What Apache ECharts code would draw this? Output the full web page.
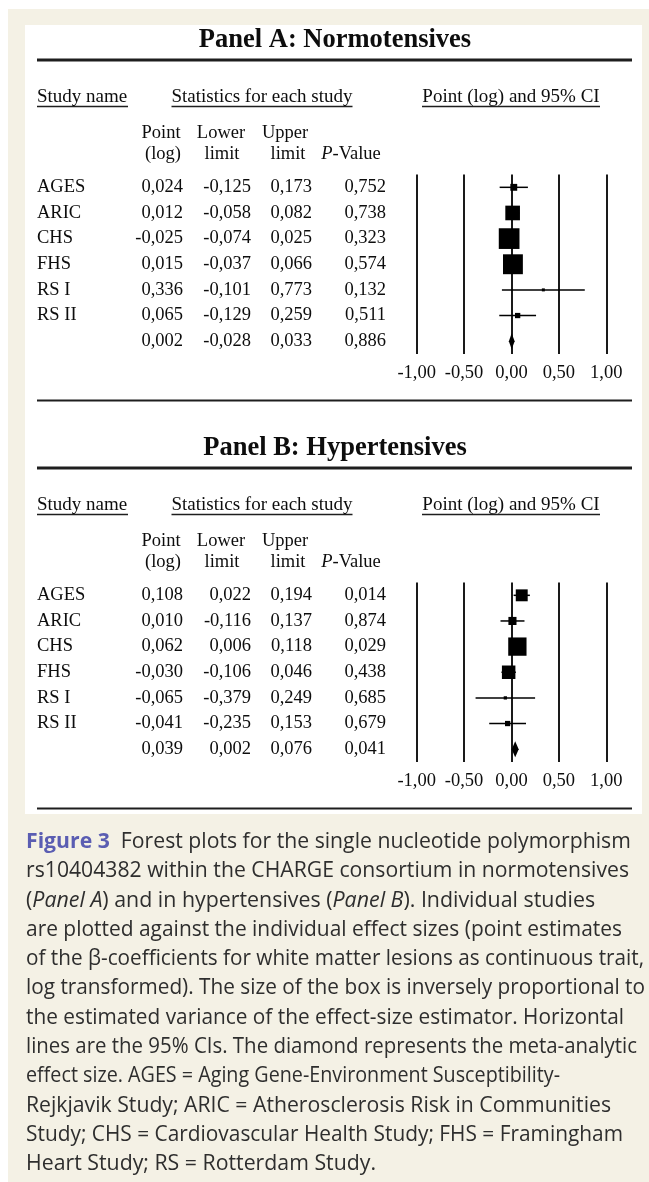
<!DOCTYPE html>
<html>
<head>
<meta charset="utf-8">
<script src="https://cdn.jsdelivr.net/npm/echarts@6/dist/echarts.min.js"></script>
<style>
  html, body { margin: 0; padding: 0; background: #fff; }
  #chart { width: 649px; height: 1182px; }
</style>
</head>
<body>
<div id="chart"></div>
<script>
// rows: six studies + pooled estimate (blank name)
const studies = ["AGES", "ARIC", "CHS", "FHS", "RS I", "RS II", ""];

// Panel A: normotensives
const pointA = [0.024, 0.012, -0.025, 0.015, 0.336, 0.065, 0.002];
const lowerA = [-0.125, -0.058, -0.074, -0.037, -0.101, -0.129, -0.028];
const upperA = [0.173, 0.082, 0.025, 0.066, 0.773, 0.259, 0.033];
const pValueA = [0.752, 0.738, 0.323, 0.574, 0.132, 0.511, 0.886];

// Panel B: hypertensives
const pointB = [0.108, 0.010, 0.062, -0.030, -0.065, -0.041, 0.039];
const lowerB = [0.022, -0.116, 0.006, -0.106, -0.379, -0.235, 0.002];
const upperB = [0.194, 0.137, 0.118, 0.046, 0.249, 0.153, 0.076];
const pValueB = [0.014, 0.874, 0.029, 0.438, 0.685, 0.679, 0.041];

const xMin = -1, xMax = 1, xStep = 0.5;

const SERIF = "'Liberation Serif', 'Times New Roman', serif";
const SANS = "'Open Sans', 'Noto Sans', sans-serif";
const INK = "#0d0d0d";
const PANEL_OFFSET = 408;

const fmt3 = (v) => v.toFixed(3).replace(".", ",");
const fmt2 = (v) => v.toFixed(2).replace(".", ",");

const chart = echarts.init(document.getElementById("chart"), null, { renderer: "canvas" });

// forest marks: CI line + box, last row = diamond
function forestRender(params, api) {
  const i = params.dataIndex;
  const pt = api.coord([api.value(0), i]);
  const lo = api.coord([api.value(2), i]);
  const hi = api.coord([api.value(3), i]);
  const y = pt[1];
  if (i === studies.length - 1) {
    return {
      type: "polygon",
      shape: { points: [[lo[0], y], [pt[0], y - 8], [hi[0], y], [pt[0], y + 8]] },
      style: { fill: "#000" },
    };
  }
  // box side inversely related to CI width
  const side = Math.max(3, 2.05 / (api.value(3) - api.value(2)));
  return {
    type: "group",
    children: [
      {
        type: "line",
        shape: { x1: lo[0], y1: y, x2: hi[0], y2: y },
        style: { stroke: "#000", lineWidth: 1.5 },
      },
      {
        type: "rect",
        shape: { x: pt[0] - side / 2, y: y - side / 2, width: side, height: side },
        style: { fill: "#000" },
      },
    ],
  };
}

// numeric table, rows aligned with the category axis
function tableRender(pt, lo, hi, pv) {
  return function (params, api) {
    const i = params.dataIndex;
    const y = api.coord([0, i])[1];
    const cell = (txt, x, align) => ({
      type: "text",
      x: x,
      y: y,
      style: {
        text: txt,
        font: "18.5px " + SERIF,
        fill: INK,
        align: align,
        verticalAlign: "middle",
      },
    });
    return {
      type: "group",
      children: [
        cell(studies[i], 37, "left"),
        cell(fmt3(pt[i]), 183, "right"),
        cell(fmt3(lo[i]), 251, "right"),
        cell(fmt3(hi[i]), 312, "right"),
        cell(fmt3(pv[i]), 386, "right"),
      ],
    };
  };
}

function makeAxis(gridIndex) {
  return {
    type: "value",
    gridIndex: gridIndex,
    min: xMin,
    max: xMax,
    interval: xStep,
    axisLine: { show: false },
    axisTick: { show: false },
    splitLine: { show: true, lineStyle: { color: "#1a1a1a", width: 2 } },
    axisLabel: {
      margin: 10,
      fontFamily: SERIF,
      fontSize: 18.5,
      color: INK,
      formatter: (v) => fmt2(v),
    },
  };
}

function makeYAxis(gridIndex) {
  return {
    type: "category",
    gridIndex: gridIndex,
    data: studies.map((s, i) => i),
    inverse: true,
    show: false,
  };
}

function panelGraphics(title, dy) {
  const t = (txt, x, y, font, align) => ({
    type: "text",
    x: x,
    y: y + dy,
    style: { text: txt, font: font, fill: INK, align: align || "center", verticalAlign: "middle" },
  });
  const line = (x1, y1, x2, w) => ({
    type: "line",
    shape: { x1: x1, y1: y1 + dy, x2: x2, y2: y1 + dy },
    style: { stroke: "#1e1e1e", lineWidth: w },
  });
  const sub = "18.5px " + SERIF;
  return [
    t(title, 335, 40, "bold 26.5px " + SERIF),
    line(37, 60, 632, 3),
    t("Study name", 37, 97, "19px " + SERIF, "left"),
    line(37, 106.5, 128, 1.3),
    t("Statistics for each study", 262, 97, "19px " + SERIF),
    line(171.5, 106.5, 352.5, 1.3),
    t("Point (log) and 95% CI", 511, 97, "19px " + SERIF),
    line(422, 106.5, 600, 1.3),
    t("Point", 161, 133, sub),
    t("(log)", 163, 154, sub),
    t("Lower", 221, 133, sub),
    t("limit", 222, 154, sub),
    t("Upper", 285, 133, sub),
    t("limit", 288, 154, sub),
    {
      type: "text",
      x: 351,
      y: 154 + dy,
      style: {
        text: "{i|P}-Value",
        font: sub,
        fill: INK,
        align: "center",
        verticalAlign: "middle",
        rich: { i: { fontStyle: "italic", fontFamily: SERIF, fontSize: 18.5, fill: INK } },
      },
    },
    line(37, 400.5, 632, 2),
  ];
}

const captionLines = [
  "{b|Figure 3}  Forest plots for the single nucleotide polymorphism",
  "rs10404382 within the CHARGE consortium in normotensives",
  "({i|Panel A}) and in hypertensives ({i|Panel B}). Individual studies",
  "are plotted against the individual effect sizes (point estimates",
  "of the \u03b2-coefficients for white matter lesions as continuous trait,",
  "log transformed). The size of the box is inversely proportional to",
  "the estimated variance of the effect-size estimator. Horizontal",
  "lines are the 95% CIs. The diamond represents the meta-analytic",
  "effect size. AGES = Aging Gene-Environment Susceptibility-",
  "Rejkjavik Study; ARIC = Atherosclerosis Risk in Communities",
  "Study; CHS = Cardiovascular Health Study; FHS = Framingham",
  "Heart Study; RS = Rotterdam Study.",
];
// right edge of each caption line in the figure (typeset line lengths)
const captionEnds = [626, 629, 603, 622, 644, 645, 624, 637, 560, 611, 623, 376];

const CAP_FONT = "21px " + SANS;
const measureCtx = document.createElement("canvas").getContext("2d");
measureCtx.font = CAP_FONT;

const captionGraphics = captionLines.map((txt, k) => {
  const plain = txt.replace(/\{[bi]\|([^}]*)\}/g, "$1");
  const w = measureCtx.measureText(plain).width;
  const sx = Math.min(1.08, Math.max(0.92, (captionEnds[k] - 26) / w));
  return {
    type: "text",
    x: 26,
    y: 842 + k * 29.3,
    scaleX: sx,
    style: {
      text: txt,
      font: CAP_FONT,
      fill: "#2e2e2e",
      align: "left",
      verticalAlign: "middle",
      rich: {
        b: { fontWeight: "bold", fontSize: 21, fontFamily: SANS, fill: "#5a5db2" },
        i: { fontStyle: "italic", fontSize: 21, fontFamily: SANS, fill: "#2e2e2e" },
      },
    },
  };
});

const option = {
  backgroundColor: "#ffffff",
  animation: false,
  graphic: {
    elements: [
      { type: "rect", z: -100, shape: { x: 8, y: 9, width: 641, height: 1173 }, style: { fill: "#f4f1e5" } },
      { type: "rect", z: -99, shape: { x: 25, y: 25, width: 617, height: 789 }, style: { fill: "#ffffff" } },
      ...panelGraphics("Panel A: Normotensives", 0),
      ...panelGraphics("Panel B: Hypertensives", PANEL_OFFSET),
      ...captionGraphics,
    ],
  },
  grid: [
    { left: 416.7, right: 42.7, top: 174.5, height: 179.5 },
    { left: 416.7, right: 42.7, top: 174.5 + PANEL_OFFSET, height: 179.5 },
  ],
  xAxis: [makeAxis(0), makeAxis(1)],
  yAxis: [makeYAxis(0), makeYAxis(1)],
  series: [
    {
      name: "Normotensives",
      type: "custom",
      xAxisIndex: 0,
      yAxisIndex: 0,
      renderItem: forestRender,
      data: studies.map((s, i) => [pointA[i], i, lowerA[i], upperA[i]]),
      encode: { x: [0, 2, 3], y: 1 },
    },
    {
      name: "Hypertensives",
      type: "custom",
      xAxisIndex: 1,
      yAxisIndex: 1,
      renderItem: forestRender,
      data: studies.map((s, i) => [pointB[i], i, lowerB[i], upperB[i]]),
      encode: { x: [0, 2, 3], y: 1 },
    },
    {
      name: "Table A",
      type: "custom",
      xAxisIndex: 0,
      yAxisIndex: 0,
      clip: false,
      renderItem: tableRender(pointA, lowerA, upperA, pValueA),
      data: studies.map((s, i) => [0, i]),
      encode: { x: 0, y: 1 },
    },
    {
      name: "Table B",
      type: "custom",
      xAxisIndex: 1,
      yAxisIndex: 1,
      clip: false,
      renderItem: tableRender(pointB, lowerB, upperB, pValueB),
      data: studies.map((s, i) => [0, i]),
      encode: { x: 0, y: 1 },
    },
  ],
};

chart.setOption(option);
</script>
</body>
</html>
